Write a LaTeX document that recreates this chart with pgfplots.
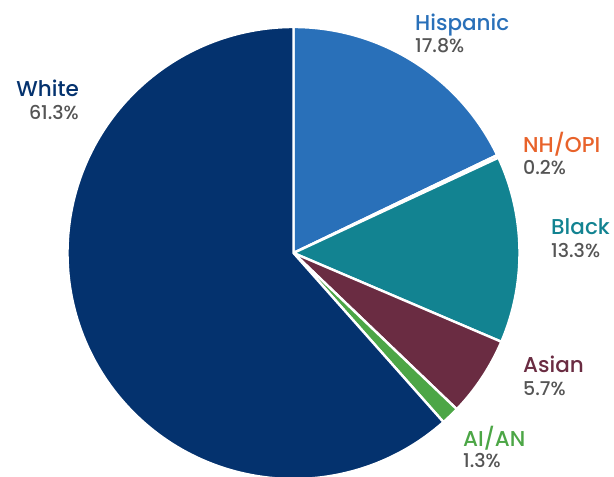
\documentclass[border=0pt]{standalone}
\usepackage{pgfplots}
\pgfplotsset{compat=1.18}
\usepackage{fontspec}
\setmainfont{Poppins}[UprightFont={* Medium},BoldFont={* SemiBold}]
\definecolor{cHisp}{RGB}{41,112,185}
\definecolor{cNH}{RGB}{232,98,42}
\definecolor{cBlack}{RGB}{18,131,145}
\definecolor{cAsian}{RGB}{106,44,66}
\definecolor{cAIAN}{RGB}{76,166,70}
\definecolor{cWhite}{RGB}{4,50,110}
\definecolor{cNum}{RGB}{85,85,85}
% shares (percent)
\def\vHisp{17.8}\def\vNH{0.2}\def\vBlack{13.3}\def\vAsian{5.7}\def\vAIAN{1.3}\def\vWhite{61.3}
\pgfmathsetmacro{\tot}{\vHisp+\vNH+\vBlack+\vAsian+\vAIAN+\vWhite}
\pgfmathsetmacro{\aA}{90}
\pgfmathsetmacro{\aB}{\aA-\vHisp/\tot*360}
\pgfmathsetmacro{\aC}{\aB-\vNH/\tot*360}
\pgfmathsetmacro{\aD}{\aC-\vBlack/\tot*360}
\pgfmathsetmacro{\aE}{\aD-\vAsian/\tot*360}
\pgfmathsetmacro{\aF}{\aE-\vAIAN/\tot*360}
\pgfmathsetmacro{\aG}{\aF-\vWhite/\tot*360}
\newcommand\pieslice[3]{\fill[#3,draw=white,line width=2.4pt,line join=round]
    (axis cs:293.5,224) -- +(#1:226pt) arc[start angle=#1,end angle=#2,radius=226pt] -- cycle;}
\newcommand\lab[6]{%
  \node[inner sep=0pt,anchor=base #6,text=#4,font=\fontsize{21.5}{24}\selectfont] at (axis cs:#1,#2) {#5};}
\newcommand\num[5]{%
  \node[inner sep=0pt,anchor=base #5,text=cNum,font=\fontsize{19}{22}\selectfont] at (axis cs:#1,#2) {#3};}
\begin{document}
\begin{tikzpicture}
\begin{axis}[width=614pt,height=477pt,scale only axis,
  xmin=0,xmax=614,ymin=0,ymax=477,axis lines=none,clip=true]
\coordinate (bl) at (rel axis cs:0,0);
\coordinate (tr) at (rel axis cs:1,1);
\pieslice{\aA}{\aB}{cHisp}
\pieslice{\aB}{\aC}{cNH}
\pieslice{\aC}{\aD}{cBlack}
\pieslice{\aD}{\aE}{cAsian}
\pieslice{\aE}{\aF}{cAIAN}
\pieslice{\aF}{\aG}{cWhite}
\lab{415}{446}{}{cHisp}{Hispanic}{west}
\num{415}{424}{17.8\%}{}{west}
\lab{523}{324}{}{cNH}{NH/OPI}{west}
\num{523}{302}{0.2\%}{}{west}
\lab{551}{242}{}{cBlack}{Black}{west}
\num{551}{219}{13.3\%}{}{west}
\lab{523}{104}{}{cAsian}{Asian}{west}
\num{523}{81}{5.7\%}{}{west}
\lab{463}{30}{}{cAIAN}{AI/AN}{west}
\num{463}{9}{1.3\%}{}{west}
\lab{79}{380}{}{cWhite}{White}{east}
\num{79}{357}{61.3\%}{}{east}
\end{axis}
\pgfresetboundingbox
\path[use as bounding box] (bl) rectangle (tr);
\end{tikzpicture}
\end{document}
